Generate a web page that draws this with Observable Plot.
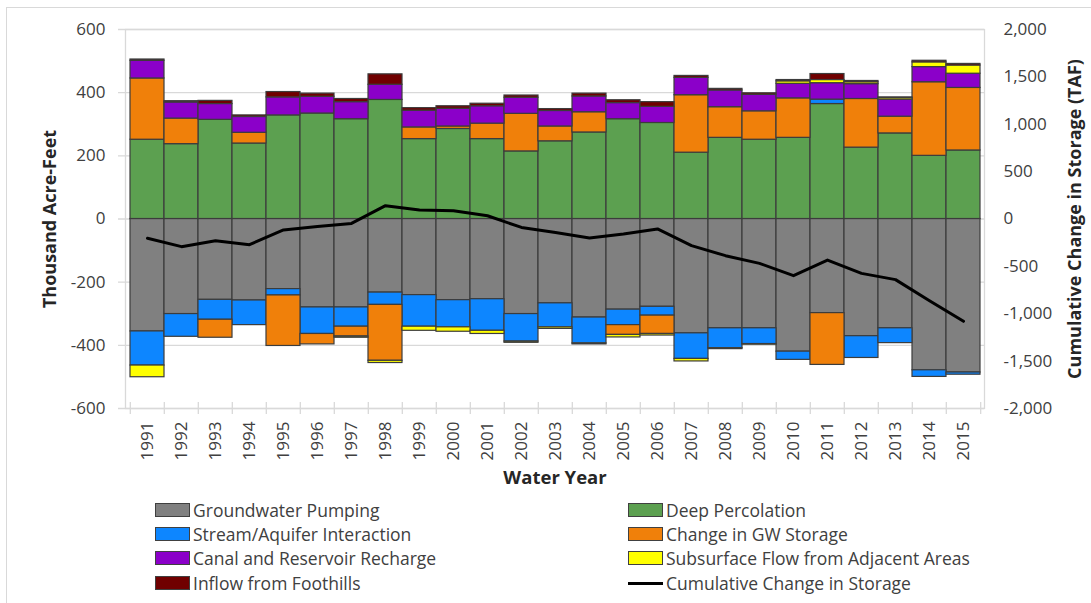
<!DOCTYPE html>
<html>
<head>
<meta charset="utf-8">
<script src="https://cdn.jsdelivr.net/npm/d3@7"></script>
<script src="https://cdn.jsdelivr.net/npm/@observablehq/plot@0.6"></script>
<style>
  html, body { margin: 0; padding: 0; background: #fff; }
  body { width: 1091px; height: 603px; position: relative; overflow: hidden; font-family: "Open Sans", sans-serif; }
  #border { position: absolute; left: 6px; top: 7px; width: 1200px; height: 700px; border: 1px solid #d9d9d9; }
  #chart { position: absolute; left: 0; top: 0; }
  .leg { position: absolute; display: flex; align-items: center; font-size: 17.5px; color: #404040; white-space: nowrap; }
  .sw { width: 33px; height: 12px; border: 1.5px solid #404040; margin-right: 3px; box-sizing: content-box; }
  .ln { width: 35px; height: 3px; background: #000; margin-right: 3px; }
</style>
</head>
<body>
<div id="border"></div>
<div id="chart"></div>
<div id="legend"></div>
<script>
// ---- data (thousand acre-feet) ----
const years = [1991,1992,1993,1994,1995,1996,1997,1998,1999,2000,2001,2002,2003,2004,2005,2006,2007,2008,2009,2010,2011,2012,2013,2014,2015];

const seriesNames = [
  "Groundwater Pumping",
  "Deep Percolation",
  "Stream/Aquifer Interaction",
  "Change in GW Storage",
  "Canal and Reservoir Recharge",
  "Subsurface Flow from Adjacent Areas",
  "Inflow from Foothills"
];
const seriesColors = ["#808080", "#5ca050", "#0d86ff", "#f0800a", "#8b00c9", "#ffff00", "#700000"];
const lineName = "Cumulative Change in Storage";

const pumping    = [-356,-301,-256,-258,-222,-280,-280,-233,-241,-257,-254,-301,-267,-312,-287,-278,-362,-346,-346,-420,-298,-371,-346,-479,-486];
const deepPerc   = [251,237,314,239,328,334,316,377,253,285,253,214,246,274,316,304,210,257,251,257,364,226,271,200,217];
const stream     = [-108,-72,-63,-78,-20,-84,-61,-39,-100,-86,-100,-87,-76,-82,-49,-28,-81,-63,-50,-26,14,-69,-47,-21,-7];
const gwChange   = [194,81,-57,34,-160,-33,-31,-177,37,8,49,119,47,64,-31,-58,182,97,90,125,-164,154,53,233,198];
const canal      = [56,51,50,50,57,53,54,48,53,56,55,51,49,50,51,51,55,53,52,46,52,47,54,48,45];
const subsurface = [-37,0,0,0,0,0,-4,-7,-13,-14,-10,-4,-5,-3,-8,-5,-8,-3,-2,8,10,6,5,15,26];
const foothills  = [4,4,10,5,17,10,10,33,8,8,8,7,6,9,9,15,6,5,5,4,19,4,2,5,5];

// cumulative change in storage (TAF), right axis
const cumulative = [-204,-292,-229,-271,-116,-78,-47,141,95,86,34,-89,-142,-200,-159,-105,-281,-387,-468,-598,-433,-574,-640,-862,-1080];

const leftTicks = [-600,-400,-200,0,200,400,600];
const rightTicksTAF = [-2000,-1500,-1000,-500,0,500,1000,1500,2000];

// ---- build tables ----
const seriesValues = [pumping, deepPerc, stream, gwChange, canal, subsurface, foothills];
const bars = [];
seriesNames.forEach((name, si) => {
  years.forEach((yr, i) => {
    const v = seriesValues[si][i];
    if (v !== 0) bars.push({year: yr, series: name, value: v});
  });
});
const cumData = years.map((yr, i) => ({year: yr, cum: cumulative[i]}));
const ratio = 600 / 2000; // left units per TAF on right axis

const fmtComma = d3.formatLocale({decimal: ".", thousands: ",", grouping: [3], currency: ["$", ""], minus: "-"}).format(",");

const W = 1091, H = 500, ML = 125, MR = 107, MT = 29, MB = 92;
const bw = (W - ML - MR) / years.length;

const chart = Plot.plot({
  width: W,
  height: H,
  marginLeft: ML,
  marginRight: MR,
  marginTop: MT,
  marginBottom: MB,
  x: {type: "band", domain: years, padding: 0},
  y: {domain: [-600, 600]},
  color: {domain: seriesNames, range: seriesColors},
  style: {fontFamily: "Open Sans, sans-serif", fontSize: "17px", color: "#404040", background: "transparent", overflow: "visible"},
  marks: [
    Plot.gridY(leftTicks, {stroke: "#d9d9d9", strokeOpacity: 1, strokeWidth: 1.3, insetLeft: -7}),
    Plot.frame({stroke: "#d9d9d9", strokeWidth: 1.3}),
    Plot.ruleX(years, {x: d => d, dx: -bw / 2, y1: -581, y2: -619, stroke: "#d9d9d9", strokeWidth: 1.3}),
    Plot.ruleX(years.slice(-1), {x: d => d, dx: bw / 2, y1: -581, y2: -619, stroke: "#d9d9d9", strokeWidth: 1.3}),
    Plot.barY(bars, {x: "year", y: "value", fill: "series", z: "series", order: seriesNames, stroke: "#3c3c3c", strokeWidth: 1.2}),
    Plot.line(cumData, {x: "year", y: d => d.cum * ratio, stroke: "#000", strokeWidth: 3, curve: "linear"}),
    Plot.axisY(leftTicks, {anchor: "left", tickSize: 0, tickPadding: 20, tickFormat: d => String(d), label: null, fontSize: 17, fill: "#404040"}),
    Plot.axisY(rightTicksTAF.map(t => t * ratio), {anchor: "right", tickSize: 0, tickPadding: 19, tickFormat: d => fmtComma(Math.round(d / ratio)), label: null, fontSize: 17, fill: "#404040"}),
    Plot.axisX({anchor: "bottom", tickSize: 0, tickPadding: 13, tickRotate: -90, tickFormat: d => String(d), label: null, fontSize: 17, fill: "#404040"}),
    Plot.text(["Thousand Acre-Feet"], {frameAnchor: "left", textAnchor: "middle", rotate: -90, dx: -75, fontWeight: "bold", fontSize: 18, fill: "#262626"}),
    Plot.text(["Cumulative Change in Storage (TAF)"], {frameAnchor: "right", textAnchor: "middle", rotate: -90, dx: 91, fontWeight: "bold", fontSize: 18, fill: "#262626"}),
    Plot.text(["Water Year"], {frameAnchor: "bottom", dy: 75, fontWeight: "bold", fontSize: 18.5, fill: "#262626"})
  ]
});
document.getElementById("chart").appendChild(chart);

// ---- legend ----
const legendItems = seriesNames.map((n, i) => ({name: n, color: seriesColors[i], line: false}));
legendItems.push({name: lineName, color: "#000", line: true});
const legend = document.getElementById("legend");
const colX = [155, 628];
const rowY = [510, 534, 558, 583];
legendItems.forEach((item, i) => {
  const el = document.createElement("div");
  el.className = "leg";
  el.style.left = colX[i % 2] + "px";
  el.style.top = (rowY[Math.floor(i / 2)] - 12) + "px";
  el.style.height = "24px";
  const sw = document.createElement("div");
  if (item.line) { sw.className = "ln"; }
  else { sw.className = "sw"; sw.style.background = item.color; }
  el.appendChild(sw);
  const t = document.createElement("span");
  t.textContent = item.name;
  el.appendChild(t);
  legend.appendChild(el);
});
</script>
</body>
</html>
